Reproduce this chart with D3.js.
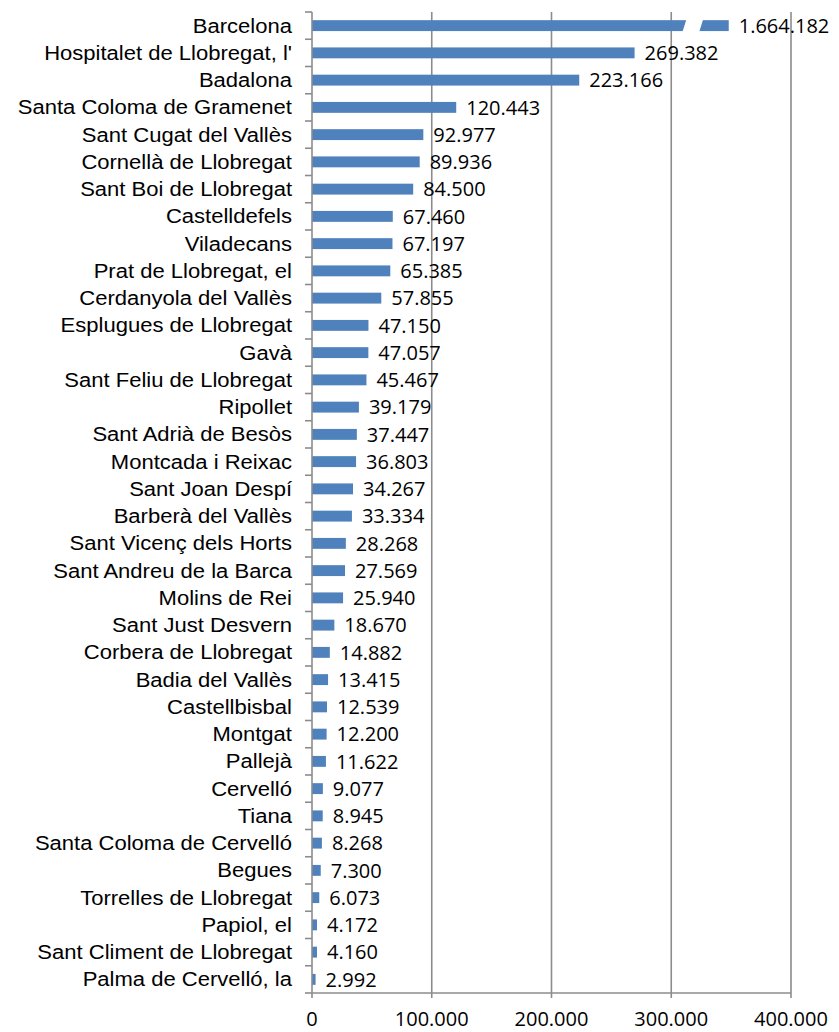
<!DOCTYPE html>
<html>
<head>
	<meta charset="utf-8">
	<title>Població - municipis</title>
	<script src="https://d3js.org/d3.v7.min.js"></script>
	<style>
		body { margin: 0; background: #fff; }
		.cat { font-family: Arial, "Liberation Sans", sans-serif; font-size: 19.5px; fill: #000; }
		.val, .tick-label { font-family: "Open Sans", sans-serif; font-size: 20px; fill: #000; }
	</style>
</head>
<body>
	<script type="text/javascript">

		// Data
		var municipis = ["Barcelona", "Hospitalet de Llobregat, l'", "Badalona", "Santa Coloma de Gramenet",
			"Sant Cugat del Vallès", "Cornellà de Llobregat", "Sant Boi de Llobregat", "Castelldefels",
			"Viladecans", "Prat de Llobregat, el", "Cerdanyola del Vallès", "Esplugues de Llobregat",
			"Gavà", "Sant Feliu de Llobregat", "Ripollet", "Sant Adrià de Besòs", "Montcada i Reixac",
			"Sant Joan Despí", "Barberà del Vallès", "Sant Vicenç dels Horts", "Sant Andreu de la Barca",
			"Molins de Rei", "Sant Just Desvern", "Corbera de Llobregat", "Badia del Vallès",
			"Castellbisbal", "Montgat", "Pallejà", "Cervelló", "Tiana", "Santa Coloma de Cervelló",
			"Begues", "Torrelles de Llobregat", "Papiol, el", "Sant Climent de Llobregat",
			"Palma de Cervelló, la"];
		var poblacio = [1664182, 269382, 223166, 120443, 92977, 89936, 84500, 67460, 67197, 65385,
			57855, 47150, 47057, 45467, 39179, 37447, 36803, 34267, 33334, 28268, 27569, 25940,
			18670, 14882, 13415, 12539, 12200, 11622, 9077, 8945, 8268, 7300, 6073, 4172, 4160, 2992];
		var ticks = [0, 100000, 200000, 300000, 400000];

		// broken axis: the biggest bar is cut and drawn short
		var shownMax = 348000;
		var breakFrom = 311000, breakTo = 325000;

		var outerWidth = 839, outerHeight = 1032;
		var margin = {top: 12, right: 48, bottom: 39, left: 312};
		var width = outerWidth - margin.left - margin.right,
			height = outerHeight - margin.top - margin.bottom;

		var fmt = d3.formatLocale({decimal: ",", thousands: ".", grouping: [3], currency: ["", ""]}).format(",");

		var data = municipis.map(function(d, i) { return {name: d, value: poblacio[i]}; });

		var x = d3.scaleLinear().domain([0, 400000]).range([0, width]);
		var y = d3.scaleBand().domain(municipis).range([0, height]).paddingInner(0.6).paddingOuter(0.3);

		var svg = d3.select("body").append("svg")
			.attr("width", outerWidth)
			.attr("height", outerHeight);
		var chart = svg.append("g")
			.attr("transform", "translate(" + margin.left + "," + margin.top + ")");

		// Gridlines
		chart.selectAll(".grid")
			.data(ticks.slice(1))
			.enter().append("line")
			.attr("x1", function(d) { return x(d); })
			.attr("x2", function(d) { return x(d); })
			.attr("y1", 0)
			.attr("y2", height + 5)
			.attr("stroke", "#8c8c8c")
			.attr("stroke-width", 1.6);

		// Bars
		chart.selectAll(".bar")
			.data(data)
			.enter().append("rect")
			.attr("x", 0)
			.attr("y", function(d) { return y(d.name); })
			.attr("width", function(d) { return x(Math.min(d.value, shownMax)); })
			.attr("height", y.bandwidth())
			.attr("fill", "#4f81bd");

		// Break in the Barcelona bar
		var by = y(municipis[0]), bh = y.bandwidth();
		chart.append("polygon")
			.attr("points", [
				[x(breakFrom) + 2, by - 1], [x(breakTo) + 2, by - 1],
				[x(breakTo) - 2, by + bh + 1], [x(breakFrom) - 2, by + bh + 1]
			].join(" "))
			.attr("fill", "#fff");

		// Value labels
		chart.selectAll(".val")
			.data(data)
			.enter().append("text")
			.attr("class", "val")
			.attr("x", function(d) { return x(Math.min(d.value, shownMax)) + 10; })
			.attr("y", function(d) { return y(d.name) + y.bandwidth() / 2; })
			.attr("dy", "0.36em")
			.text(function(d) { return fmt(d.value); });

		// Y axis line + ticks at category boundaries
		var step = y.step();
		chart.append("line")
			.attr("x1", 0).attr("x2", 0)
			.attr("y1", 0).attr("y2", height)
			.attr("stroke", "#8c8c8c").attr("stroke-width", 1.6);
		chart.selectAll(".ytick")
			.data(d3.range(municipis.length + 1))
			.enter().append("line")
			.attr("x1", -7).attr("x2", 0)
			.attr("y1", function(i) { return i * step; })
			.attr("y2", function(i) { return i * step; })
			.attr("stroke", "#8c8c8c").attr("stroke-width", 1.6);

		// X axis
		chart.append("line")
			.attr("x1", 0).attr("x2", width)
			.attr("y1", height).attr("y2", height)
			.attr("stroke", "#8c8c8c").attr("stroke-width", 1.6);
		chart.append("line")
			.attr("x1", 0).attr("x2", 0)
			.attr("y1", height).attr("y2", height + 5)
			.attr("stroke", "#8c8c8c").attr("stroke-width", 1.6);
		chart.selectAll(".tick-label")
			.data(ticks)
			.enter().append("text")
			.attr("class", "tick-label")
			.attr("x", function(d) { return x(d); })
			.attr("y", height + 26)
			.attr("dy", "0.36em")
			.style("text-anchor", "middle")
			.text(function(d) { return fmt(d); });

		// Category labels (slightly stretched like the original)
		var labels = chart.append("g")
			.attr("transform", "translate(-20,0) scale(1.13,1)");
		labels.selectAll(".cat")
			.data(municipis)
			.enter().append("text")
			.attr("class", "cat")
			.attr("x", 0)
			.attr("y", function(d) { return y(d) + y.bandwidth() / 2; })
			.attr("dy", "0.36em")
			.style("text-anchor", "end")
			.text(function(d) { return d; });

	</script>
</body>
</html>
